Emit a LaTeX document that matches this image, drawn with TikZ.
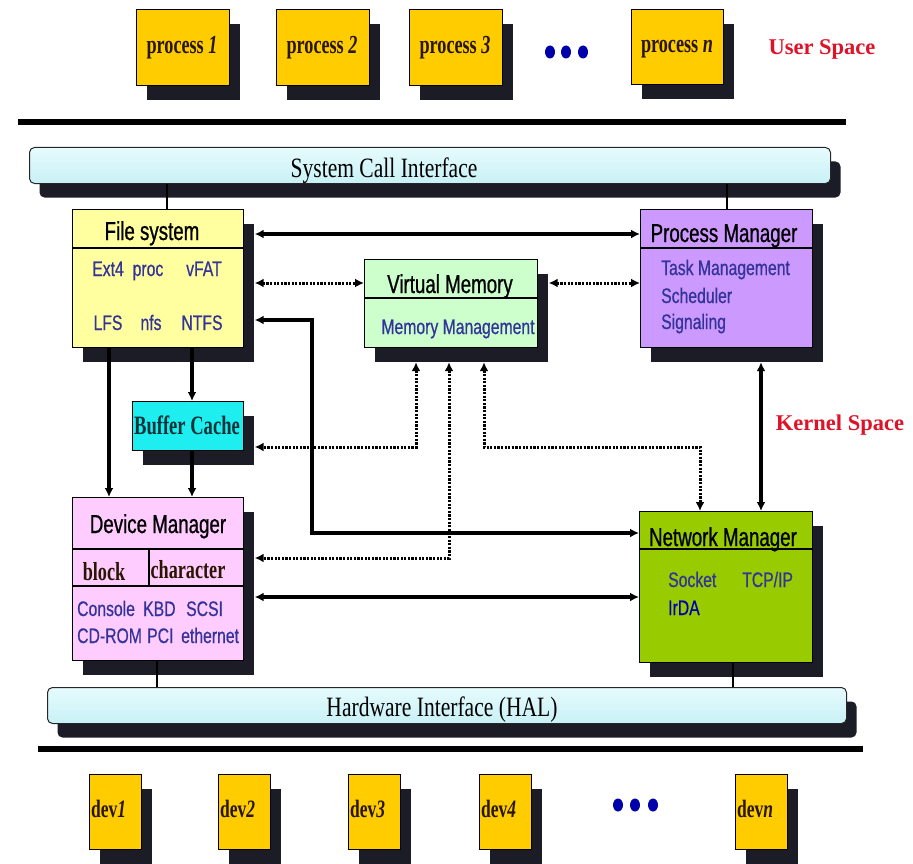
\documentclass[tikz,border=0pt]{standalone}
\usepackage{fontspec}
\setmainfont{Liberation Serif}
\newfontfamily\hdfont[FakeStretch=0.72,FakeBold=0.8]{Liberation Sans}
\newfontfamily\itemfont[FakeStretch=0.75,FakeBold=0.6]{Liberation Sans}
\newfontfamily\barfont[FakeStretch=0.77]{Liberation Serif}
\newfontfamily\labfont[FakeStretch=0.7]{Liberation Serif}
\usetikzlibrary{arrows.meta,shadows,shapes.geometric}

\definecolor{shadowc}{RGB}{28,28,38}
\definecolor{procfill}{RGB}{255,204,0}
\definecolor{fsfill}{RGB}{255,255,160}
\definecolor{pmfill}{RGB}{204,153,255}
\definecolor{vmfill}{RGB}{204,255,204}
\definecolor{bcfill}{RGB}{30,238,240}
\definecolor{dmfill}{RGB}{255,204,255}
\definecolor{nmfill}{RGB}{153,204,0}
\definecolor{bartop}{RGB}{230,251,253}
\definecolor{barbot}{RGB}{200,241,246}
\definecolor{itemblue}{RGB}{51,51,153}
\definecolor{labdark}{RGB}{40,22,0}
\definecolor{spacered}{RGB}{222,18,40}
\definecolor{dotblue}{RGB}{0,0,170}
\definecolor{bctext}{RGB}{0,50,55}

\begin{document}
\begin{tikzpicture}[x=1pt,y=-1pt,
  box/.style={draw=black, line width=1.2pt, anchor=north west, inner sep=0pt,
    general shadow={fill=shadowc, shadow xshift=10pt, shadow yshift=-14pt}},
  bar/.style={draw=black!85, line width=1pt, rounded corners=5pt,
    top color=bartop, bottom color=barbot, anchor=north west, inner sep=0pt,
    general shadow={fill=shadowc, shadow xshift=10pt, shadow yshift=-14pt}},
  divider/.style={line width=1.2pt},
  hd/.style={font=\hdfont\fontsize{26}{28}\selectfont, inner sep=0pt, anchor=base},
  item/.style={font=\itemfont\fontsize{21}{23}\selectfont, text=itemblue, inner sep=0pt, anchor=base},
  itemw/.style={item, anchor=base west},
  proclab/.style={font=\labfont\bfseries\fontsize{26}{28}\selectfont, text=labdark, inner sep=0pt, anchor=base},
  devlab/.style={font=\labfont\bfseries\fontsize{25}{27}\selectfont, text=labdark, inner sep=0pt, anchor=base west},
  barlab/.style={font=\barfont\fontsize{28}{30}\selectfont, inner sep=0pt, anchor=base},
  spacelab/.style={font=\bfseries\fontsize{22.5}{24}\selectfont, text=spacered, inner sep=0pt, anchor=base},
  sublab/.style={font=\labfont\bfseries\fontsize{26}{28}\selectfont, text=labdark, inner sep=0pt, anchor=base},
  bigdot/.style={fill=dotblue, ellipse, inner sep=0pt, minimum width=10pt, minimum height=13pt},
  rule/.style={line width=6pt},
  link/.style={line width=2pt},
  conn/.style={line width=3.2pt},
  dotconn/.style={line width=3pt, dash pattern=on 2.2pt off 1.4pt},
  >={Latex[length=9pt,width=9pt]}
]
\useasboundingbox (0,0) rectangle (913,864);

% ---------- user space ----------
\node[box, fill=procfill, minimum width=93pt, minimum height=76pt] (p1) at (136,9) {};
\node[box, fill=procfill, minimum width=93pt, minimum height=76pt] (p2) at (276,9) {};
\node[box, fill=procfill, minimum width=93pt, minimum height=76pt] (p3) at (409,9) {};
\node[box, fill=procfill, minimum width=92pt, minimum height=75pt] (pn) at (631,9) {};
\node[proclab] (p1t) at (182,54) {process \textit{1}};
\node[proclab] (p2t) at (322,54) {process \textit{2}};
\node[proclab] (p3t) at (455,54) {process \textit{3}};
\node[proclab] (pnt) at (677,53) {process \textit{n}};
\node[bigdot] (td1) at (550,52) {};
\node[bigdot] (td2) at (566,52) {};
\node[bigdot] (td3) at (583,52) {};
\node[spacelab] (uspace) at (822,55) {User Space};

\coordinate (toprL) at (18,122);
\coordinate (toprR) at (846,122);
\draw[rule] (toprL) -- (toprR);

% ---------- system call interface ----------
\node[bar, minimum width=801pt, minimum height=36pt] (sci) at (29,147) {};
\node[barlab] (scit) at (384,177) {System Call Interface};

% ---------- kernel blocks ----------
\node[box, fill=fsfill, minimum width=171pt, minimum height=138pt] (fs) at (72,209) {};
\draw[divider] (fs.west |- 0,248) -- (fs.east |- 0,248);
\node[hd] (fst) at (152,240) {File system};
\node[item] (fs1) at (108,276) {Ext4};
\node[item] (fs2) at (148,276) {proc};
\node[item] (fs3) at (204,276) {vFAT};
\node[item] (fs4) at (108,330) {LFS};
\node[item] (fs5) at (151,330) {nfs};
\node[item] (fs6) at (202,330) {NTFS};

\node[box, fill=pmfill, minimum width=172pt, minimum height=138pt] (pm) at (640,209) {};
\draw[divider] (pm.west |- 0,248) -- (pm.east |- 0,248);
\node[hd] (pmt) at (724,242) {Process Manager};
\node[itemw] (pm1) at (661,275) {Task Management};
\node[itemw] (pm2) at (661,303) {Scheduler};
\node[itemw] (pm3) at (661,329) {Signaling};

\node[box, fill=vmfill, minimum width=173pt, minimum height=88pt] (vm) at (364,259) {};
\draw[divider] (vm.west |- 0,298) -- (vm.east |- 0,298);
\node[hd] (vmt) at (450,293) {Virtual Memory};
\node[item] (vm1) at (458,334) {Memory Management};

\node[box, fill=bcfill, minimum width=111pt, minimum height=49pt] (bc) at (132,401) {};
\node[font=\labfont\bfseries\fontsize{26.5}{28}\selectfont, text=bctext, inner sep=0pt, anchor=base] (bct) at (187,434) {Buffer Cache};

\node[box, fill=dmfill, minimum width=171pt, minimum height=163pt] (dm) at (72,497) {};
\draw[divider] (dm.west |- 0,549) -- (dm.east |- 0,549);
\draw[divider] (dm.west |- 0,586) -- (dm.east |- 0,586);
\draw[divider] (149,549) -- (149,586);
\node[hd] (dmt) at (158,533) {Device Manager};
\node[sublab] (dmb) at (104,580) {block};
\node[sublab] (dmc) at (188,578) {character};
\node[itemw] (dm1) at (77,616) {Console};
\node[itemw] (dm2) at (143,616) {KBD};
\node[itemw] (dm3) at (186,616) {SCSI};
\node[itemw] (dm4) at (77,643) {CD-ROM};
\node[itemw] (dm5) at (147,643) {PCI};
\node[itemw] (dm6) at (181,643) {ethernet};

\node[box, fill=nmfill, minimum width=173pt, minimum height=151pt] (nm) at (639,511) {};
\draw[divider] (nm.west |- 0,549) -- (nm.east |- 0,549);
\node[hd] (nmt) at (723,546) {Network Manager};
\node[itemw] (nm1) at (668,587) {Socket};
\node[itemw] (nm2) at (742,587) {TCP/IP};
\node[itemw, text=blue!70!black] (nm3) at (668,615) {IrDA};

\node[spacelab] (kspace) at (840,430) {Kernel Space};

% ---------- hardware interface ----------
\node[bar, minimum width=799pt, minimum height=36pt] (hal) at (47,687) {};
\node[barlab] (halt) at (442,716) {Hardware Interface (HAL)};

\coordinate (botrL) at (38,749);
\coordinate (botrR) at (863,749);
\draw[rule] (botrL) -- (botrR);

% ---------- devices ----------
\node[box, fill=procfill, minimum width=52pt, minimum height=75pt] (d1) at (89,774) {};
\node[box, fill=procfill, minimum width=52pt, minimum height=75pt] (d2) at (218,774) {};
\node[box, fill=procfill, minimum width=52pt, minimum height=75pt] (d3) at (348,774) {};
\node[box, fill=procfill, minimum width=52pt, minimum height=75pt] (d4) at (479,774) {};
\node[box, fill=procfill, minimum width=52pt, minimum height=75pt] (dn) at (735,774) {};
\node[devlab] (d1t) at (91,817) {dev\textit{1}};
\node[devlab] (d2t) at (220,817) {dev\textit{2}};
\node[devlab] (d3t) at (350,817) {dev\textit{3}};
\node[devlab] (d4t) at (481,817) {dev\textit{4}};
\node[devlab] (dnt) at (737,817) {dev\textit{n}};
\node[bigdot] (bd1) at (618,805) {};
\node[bigdot] (bd2) at (635,805) {};
\node[bigdot] (bd3) at (653,805) {};

% ---------- shadow edges used as arrow targets ----------
\coordinate (fsR) at ([xshift=10.5pt]fs.east);
\coordinate (vmR) at ([xshift=10.5pt]vm.east);
\coordinate (vmB) at ([yshift=-14pt]vm.south);
\coordinate (pmB) at ([yshift=-14pt]pm.south);
\coordinate (bcR) at ([xshift=10.5pt]bc.east);
\coordinate (dmR) at ([xshift=10.5pt]dm.east);

% ---------- links to the interface bars ----------
\draw[link] (167,0 |- sci.south) -- (167,0 |- fs.north);
\draw[link] (727,0 |- sci.south) -- (727,0 |- pm.north);
\draw[link] (157,0 |- dm.south) -- (157,0 |- hal.north);
\draw[link] (733,0 |- nm.south) -- (733,0 |- hal.north);

% ---------- solid connectors ----------
\draw[conn,<->] (fsR |- 0,234) -- (pm.west |- 0,234);
\draw[conn,<->] (fsR |- 0,320) -- (312,320) -- (312,533) -- (nm.west |- 0,533);
\draw[conn,->] (192,0 |- fs.south) -- (192,0 |- bc.north);
\draw[conn,->] (192,0 |- bc.south) -- (192,0 |- dm.north);
\draw[conn,->] (109,0 |- fs.south) -- (109,0 |- dm.north);
\draw[conn,<->] (761,0 |- pmB) -- (761,0 |- nm.north);
\draw[conn,<->] (dmR |- 0,597) -- (nm.west |- 0,597);

% ---------- dotted connectors ----------
\draw[dotconn,<->] (fsR |- 0,283) -- (vm.west |- 0,283);
\draw[dotconn,<->] (vmR |- 0,283) -- (pm.west |- 0,283);
\draw[dotconn,<->] (416,0 |- vmB) -- (416,447) -- (bcR |- 0,447);
\draw[dotconn,<->] (449,0 |- vmB) -- (449,558) -- (dmR |- 0,558);
\draw[dotconn,<->] (484,0 |- vmB) -- (484,447) -- (700,447) -- (700,0 |- nm.north);
\end{tikzpicture}
\end{document}
